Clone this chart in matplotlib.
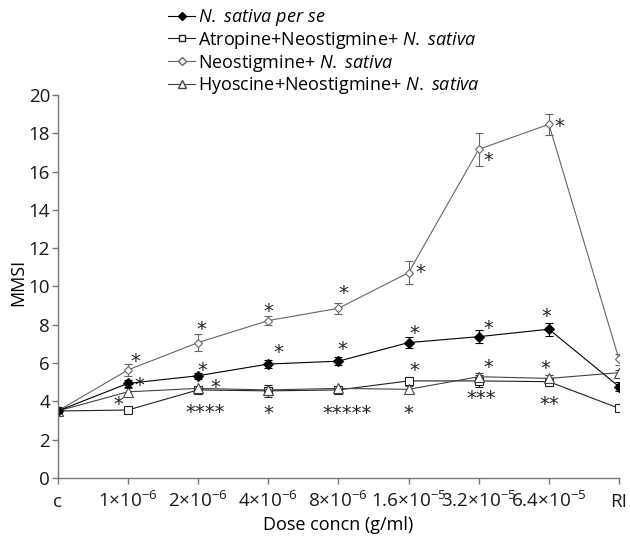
import matplotlib
matplotlib.use("Agg")
import matplotlib.pyplot as plt
from matplotlib.lines import Line2D

plt.rcParams.update({
    "font.family": "Open Sans",
    "mathtext.fontset": "custom",
    "mathtext.rm": "Open Sans",
    "mathtext.it": "Open Sans:italic",
    "font.size": 13,
})

doses = ["c", r"1×10$^{-6}$", r"2×10$^{-6}$", r"4×10$^{-6}$", r"8×10$^{-6}$",
         r"1.6×10$^{-5}$", r"3.2×10$^{-5}$", r"6.4×10$^{-5}$", "RI"]

sativa = [3.5, 4.94, 5.34, 5.95, 6.1, 7.07, 7.38, 7.77, 4.77]
sativa_err = [0.1, 0.2, 0.15, 0.22, 0.22, 0.3, 0.35, 0.35, 0.25]
atropine = [3.5, 3.55, 4.6, 4.55, 4.6, 5.07, 5.07, 5.03, 3.64]
atropine_err = [0.1, 0.12, 0.12, 0.3, 0.12, 0.2, 0.3, 0.2, 0.12]
neostig = [3.5, 5.64, 7.07, 8.22, 8.86, 10.72, 17.16, 18.47, 6.2]
neostig_err = [0.1, 0.3, 0.45, 0.25, 0.3, 0.6, 0.87, 0.54, 0.3]
hyoscine = [3.5, 4.5, 4.68, 4.6, 4.68, 4.63, 5.29, 5.2, 5.5]
hyoscine_err = [0.1, 0.2, 0.1, 0.15, 0.15, 0.2, 0.2, 0.2, 0.15]

# significance marks (x in category units, y = centre of the star)
star_x = [1.1, 1.17, 0.86,
          2.05, 2.06, 2.24, 2.1,
          3.0, 3.15, 3.0,
          4.07, 4.06, 4.12,
          5.17, 5.08, 5.08, 5.0,
          6.13, 6.13, 6.14, 6.03,
          7.15, 6.96, 6.95, 7.0]
star_y = [6.33, 5.07, 4.12,
          8.03, 5.86, 4.98, 3.67,
          8.95, 6.82, 3.64,
          9.87, 6.95, 3.6,
          11.0, 7.82, 5.86, 3.64,
          16.81, 8.08, 6.02, 4.39,
          18.59, 8.68, 5.99, 4.12]
star_txt = ["*", "*", "*",
            "*", "*", "*", "****",
            "*", "*", "*",
            "*", "*", "*****",
            "*", "*", "*", "*",
            "*", "*", "*", "***",
            "*", "*", "*", "**"]

labels = [r"$\it{N.\ sativa\ per\ se}$",
          r"Atropine+Neostigmine+ $\it{N.\ sativa}$",
          r"Neostigmine+ $\it{N.\ sativa}$",
          r"Hyoscine+Neostigmine+ $\it{N.\ sativa}$"]

fig = plt.figure(figsize=(6.3, 5.44), dpi=100)
ax = fig.add_axes([0.0916, 0.1213, 0.891, 0.7041])
x = range(len(doses))

styles = [
    (atropine, atropine_err, "s", "white", "#222222", 6),
    (hyoscine, hyoscine_err, "^", "white", "#444444", 7),
    (neostig, neostig_err, "D", "white", "#666666", 4.5),
    (sativa, sativa_err, "D", "black", "black", 5.5),
]
for vals, err, mk, fc, col, ms in styles:
    ax.errorbar(x, vals, yerr=err, marker=mk, mfc=fc, mec=col, ms=ms,
                color=col, lw=0.8, elinewidth=0.8, capsize=3, capthick=0.8,
                mew=0.8)

for sx, sy, st in zip(star_x, star_y, star_txt):
    ax.annotate(st, (sx, sy), xytext=(0, -7.5), textcoords="offset points",
                ha="center", va="baseline", fontsize=14, family="DejaVu Sans",
                color="#222222")

ax.set_xlim(0, 8)
ax.set_ylim(0, 20)
ax.set_xticks(list(x))
ax.set_xticklabels(doses)
ax.set_yticks(range(0, 21, 2))
for s in ["top", "right"]:
    ax.spines[s].set_visible(False)
for s in ["left", "bottom"]:
    ax.spines[s].set_color("#777777")
    ax.spines[s].set_linewidth(1.0)
ax.tick_params(colors="#777777", labelcolor="#1a1a1a", length=4, width=1,
               labelsize=13.5)
ax.tick_params(axis="y", pad=1.5)
ax.tick_params(axis="x", pad=17, labelsize=13.6)
for lbl in ax.get_xticklabels():
    lbl.set_va("baseline")
ax.set_xlabel("Dose concn (g/ml)")
ax.xaxis.set_label_coords(0.5, -0.1)
ax.set_ylabel("MMSI")
ax.yaxis.set_label_coords(-0.055, 0.51)

handles = [
    Line2D([], [], color="black", marker="D", mfc="black", mec="black", ms=4.5, lw=0.8),
    Line2D([], [], color="#222222", marker="s", mfc="white", mec="#222222", ms=5, lw=0.8),
    Line2D([], [], color="#666666", marker="D", mfc="white", mec="#666666", ms=4, lw=0.8),
    Line2D([], [], color="#444444", marker="^", mfc="white", mec="#444444", ms=5.5, lw=0.8),
]
fig.legend(handles, labels, loc="upper left",
           bbox_to_anchor=(168 / 630, 1 - 7 / 544),
           frameon=False, handlelength=1.5, handletextpad=0.15,
           labelspacing=0.1, borderpad=0, borderaxespad=0)

fig.savefig("out.png", dpi=100)
